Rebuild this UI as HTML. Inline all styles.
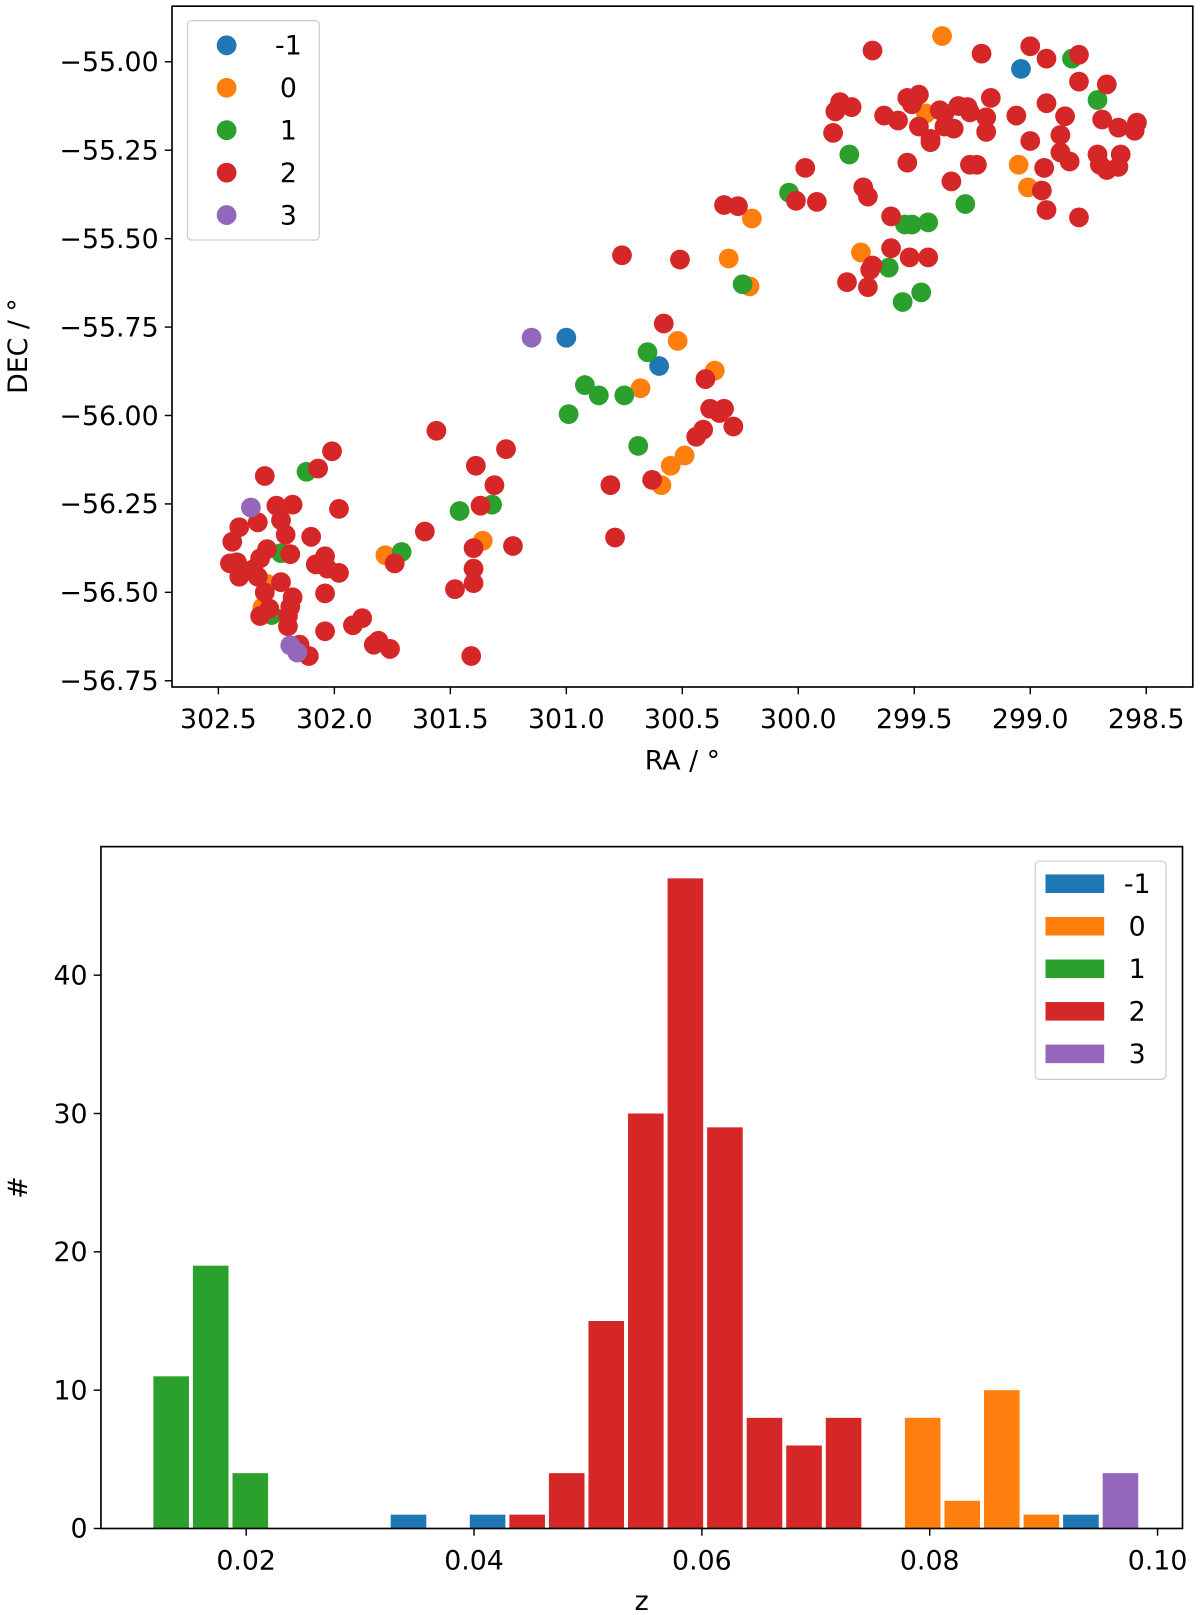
<!DOCTYPE html>
<html><head><meta charset="utf-8"><style>
html,body{margin:0;padding:0;background:#fff;}
svg{display:block;font-family:"DejaVu Sans","Liberation Sans",sans-serif;}
</style></head><body>
<svg id="fig" width="1200" height="1615" viewBox="0 0 1165 1568" preserveAspectRatio="none" xmlns="http://www.w3.org/2000/svg">
<rect x="0" y="0" width="1165" height="1568" fill="#fff"/>
<g id="topG"></g>
<g id="botG"></g>
</svg>
<script>
// ---- Scatter data (RA, DEC) per group ----
const groups = ["-1","0","1","2","3"];
const colors = ["#1f77b4","#ff7f0e","#2ca02c","#d62728","#9467bd"];
const raM1 = [299.04,301.00,300.60];
const decM1 = [-55.02,-55.78,-55.86];
const ra0 = [299.38,299.45,299.05,299.01,299.73,300.20,300.30,300.21,300.52,300.36,300.68,300.55,300.49,300.59,301.36,301.78,302.29,302.31];
const dec0 = [-54.927,-55.146,-55.291,-55.355,-55.539,-55.443,-55.556,-55.635,-55.789,-55.873,-55.923,-56.142,-56.113,-56.197,-56.354,-56.395,-56.476,-56.543];
const ra1 = [298.82,298.71,299.78,300.04,299.28,299.54,299.51,299.44,300.24,299.61,299.55,299.47,300.65,300.92,300.86,300.75,300.99,300.69,301.46,301.32,302.23,301.71,302.12,302.27];
const dec1 = [-54.991,-55.108,-55.262,-55.370,-55.402,-55.460,-55.460,-55.454,-55.629,-55.582,-55.679,-55.652,-55.821,-55.914,-55.943,-55.943,-55.996,-56.086,-56.270,-56.252,-56.389,-56.386,-56.159,-56.564];
const ra2 = [299.68,299.21,299.00,298.93,298.79,298.79,298.67,298.93,299.06,299.17,299.53,299.48,299.82,299.77,299.84,299.63,299.57,299.51,299.48,299.43,299.39,299.37,299.31,299.27,299.19,299.26,299.37,299.33,299.19,298.85,298.69,298.62,298.54,298.55,299.85,299.43,299.53,299.72,299.70,298.87,299.00,298.87,298.83,298.71,298.61,298.70,298.62,298.67,298.94,299.26,299.23,299.34,298.95,298.93,298.79,299.97,300.01,299.92,299.60,299.60,299.44,299.52,299.68,299.79,299.70,299.69,
300.76,300.51,300.32,300.26,300.58,300.40,300.38,300.32,300.28,300.34,300.41,300.44,300.81,300.63,300.79,301.56,301.39,301.26,301.31,301.37,301.23,301.40,301.40,301.40,301.41,301.61,301.74,301.48,
302.01,302.07,302.30,301.98,302.25,302.18,302.23,302.21,302.33,302.41,302.44,302.19,302.29,302.10,302.32,302.35,302.33,302.42,302.45,302.41,302.30,302.23,302.18,302.08,302.04,302.03,301.98,302.04,302.28,302.32,302.20,302.19,302.20,302.04,301.92,301.88,301.83,301.81,301.76,302.11,302.15,302.15];
const dec2 = [-54.968,-54.977,-54.956,-54.991,-54.980,-55.056,-55.064,-55.117,-55.152,-55.102,-55.102,-55.093,-55.114,-55.128,-55.140,-55.152,-55.166,-55.120,-55.183,-55.218,-55.137,-55.146,-55.125,-55.128,-55.157,-55.143,-55.183,-55.189,-55.198,-55.154,-55.163,-55.186,-55.172,-55.195,-55.201,-55.227,-55.285,-55.355,-55.381,-55.207,-55.224,-55.256,-55.282,-55.262,-55.262,-55.291,-55.297,-55.306,-55.300,-55.291,-55.291,-55.338,-55.364,-55.419,-55.440,-55.300,-55.393,-55.396,-55.437,-55.527,-55.553,-55.553,-55.576,-55.623,-55.637,-55.588,
-55.547,-55.559,-55.405,-55.408,-55.740,-55.897,-55.981,-55.981,-56.031,-55.993,-56.040,-56.060,-56.197,-56.182,-56.345,-56.043,-56.142,-56.095,-56.197,-56.255,-56.369,-56.375,-56.433,-56.474,-56.680,-56.328,-56.418,-56.491,
-56.101,-56.150,-56.171,-56.264,-56.255,-56.252,-56.296,-56.337,-56.302,-56.316,-56.357,-56.392,-56.378,-56.343,-56.404,-56.435,-56.456,-56.415,-56.418,-56.456,-56.500,-56.471,-56.514,-56.421,-56.398,-56.433,-56.445,-56.503,-56.546,-56.567,-56.596,-56.541,-56.567,-56.610,-56.593,-56.573,-56.648,-56.637,-56.660,-56.680,-56.669,-56.648];
const ra3 = [302.36,301.15,302.19,302.16];
const dec3 = [-56.26,-55.78,-56.65,-56.67];
const raTicks = [302.5,302.0,301.5,301.0,300.5,300.0,299.5,299.0,298.5];
const decTicks = [-55.00,-55.25,-55.50,-55.75,-56.00,-56.25,-56.50,-56.75];

// ---- Histogram data ----
const zMin = 0.01168;
const binWidth = 0.003472;
const countsM1 = [0,0,0,0,0,0,1,0,1,0,0,0,0,0,0,0,0,0,0,0,0,0,0,1,0];
const counts0  = [0,0,0,0,0,0,0,0,0,0,0,0,0,0,0,0,0,0,0,8,2,10,1,0,0];
const counts1  = [11,19,4,0,0,0,0,0,0,0,0,0,0,0,0,0,0,0,0,0,0,0,0,0,0];
const counts2  = [0,0,0,0,0,0,0,0,0,1,4,15,30,47,29,8,6,8,0,0,0,0,0,0,0];
const counts3  = [0,0,0,0,0,0,0,0,0,0,0,0,0,0,0,0,0,0,0,0,0,0,0,0,4];
const zTicks = [0.02,0.04,0.06,0.08,0.10];
const zTickLabels = ["0.02","0.04","0.06","0.08","0.10"];
const countTicks = [0,10,20,30,40];

const NS = "http://www.w3.org/2000/svg";
function mk(tag, attrs, parent, text){
  const e = document.createElementNS(NS, tag);
  for (const k in attrs) e.setAttribute(k, attrs[k]);
  if (text !== undefined) e.textContent = text;
  parent.appendChild(e);
  return e;
}
const FS = 26;

// ===== Top scatter =====
const topG = document.getElementById('topG');
const xs = ra => 212 + (302.5 - ra) * 225.2;
const ys = dec => 60 + (-55 - dec) * 343.4;
const L1=167, R1=1158, T1=6, B1=667;
const raArr=[raM1,ra0,ra1,ra2,ra3], decArr=[decM1,dec0,dec1,dec2,dec3];
for (let g=0; g<5; g++){
  const gg = mk('g', {}, topG);
  
  
  for (let i=0; i<raArr[g].length; i++){
    const c = mk('circle', {cx: xs(raArr[g][i]), cy: ys(decArr[g][i]), r: 9.6, fill: colors[g]}, gg);
    
    
  }
}
const f1 = mk('rect', {x:L1, y:T1, width:R1-L1, height:B1-T1, fill:'none', stroke:'#000', 'stroke-width':1.6}, topG);


raTicks.forEach(v=>{
  const x = xs(v);
  mk('line', {x1:x, x2:x, y1:B1, y2:B1+7, stroke:'#000', 'stroke-width':1.4}, topG);
  const t = mk('text', {x:x, y:B1+40, 'text-anchor':'middle', 'font-size':FS}, topG, v.toFixed(1));
  
  
});
decTicks.forEach(v=>{
  const y = ys(v);
  mk('line', {x1:L1-7, x2:L1, y1:y, y2:y, stroke:'#000', 'stroke-width':1.4}, topG);
  const t = mk('text', {x:L1-13, y:y+9, 'text-anchor':'end', 'font-size':FS}, topG, '\u2212' + Math.abs(v).toFixed(2));
  
  
});
const xl1 = mk('text', {x:(L1+R1)/2, y:747, 'text-anchor':'middle', 'font-size':FS}, topG, 'RA / °');


const yl1 = mk('text', {x:0, y:0, 'text-anchor':'middle', 'font-size':FS, transform:'translate(26,336) rotate(-90)'}, topG, 'DEC / °');


const lg1 = mk('g', {}, topG);


mk('rect', {x:182, y:20, width:128, height:213, rx:4, fill:'#fff', 'fill-opacity':0.8, stroke:'#ccc', 'stroke-width':1.2}, lg1);
groups.forEach((gname,g)=>{
  const y = 44 + g*41.2;
  const e = mk('g', {}, lg1);
  
  
  mk('circle', {cx:220, cy:y, r:9.6, fill:colors[g]}, e);
  mk('text', {x:280, y:y+9, 'text-anchor':'middle', 'font-size':FS}, e, gname);
});

// ===== Bottom histogram =====
const botG = document.getElementById('botG');
const xz = z => 239 + (z - 0.02) * 11060;
const yc = c => 1484 - c * 13.43;
const L2=98, R2=1148, T2=822, B2=1484;
const cArr=[countsM1,counts0,counts1,counts2,counts3];
for (let g=0; g<5; g++){
  const gg = mk('g', {}, botG);
  
  
  cArr[g].forEach((c,i)=>{
    if (!c) return;
    const z0 = zMin + i*binWidth + binWidth*0.05;
    const z1 = z0 + binWidth*0.9;
    const r = mk('rect', {x:xz(z0), y:yc(c), width:xz(z1)-xz(z0), height:yc(0)-yc(c), fill:colors[g]}, gg);
    
    
  });
}
const f2 = mk('rect', {x:L2, y:T2, width:R2-L2, height:B2-T2, fill:'none', stroke:'#000', 'stroke-width':1.6}, botG);


zTicks.forEach((v,i)=>{
  const x = xz(v);
  mk('line', {x1:x, x2:x, y1:B2, y2:B2+7, stroke:'#000', 'stroke-width':1.4}, botG);
  const t = mk('text', {x:x, y:B2+40, 'text-anchor':'middle', 'font-size':FS}, botG, zTickLabels[i]);
  
  
});
countTicks.forEach(v=>{
  const y = yc(v);
  mk('line', {x1:L2-7, x2:L2, y1:y, y2:y, stroke:'#000', 'stroke-width':1.4}, botG);
  const t = mk('text', {x:L2-13, y:y+9, 'text-anchor':'end', 'font-size':FS}, botG, String(v));
  
  
});
const xl2 = mk('text', {x:(L2+R2)/2, y:1563, 'text-anchor':'middle', 'font-size':FS}, botG, 'z');


const yl2 = mk('text', {x:0, y:0, 'text-anchor':'middle', 'font-size':FS, transform:'translate(26,1153) rotate(-90)'}, botG, '#');


const lg2 = mk('g', {}, botG);


mk('rect', {x:1005, y:836, width:127, height:212, rx:4, fill:'#fff', 'fill-opacity':0.8, stroke:'#ccc', 'stroke-width':1.2}, lg2);
groups.forEach((gname,g)=>{
  const y = 858 + g*41.3;
  const e = mk('g', {}, lg2);
  
  
  mk('rect', {x:1015, y:y-9, width:57, height:18, fill:colors[g]}, e);
  mk('text', {x:1104, y:y+9, 'text-anchor':'middle', 'font-size':FS}, e, gname);
});
</script>
</body></html>
